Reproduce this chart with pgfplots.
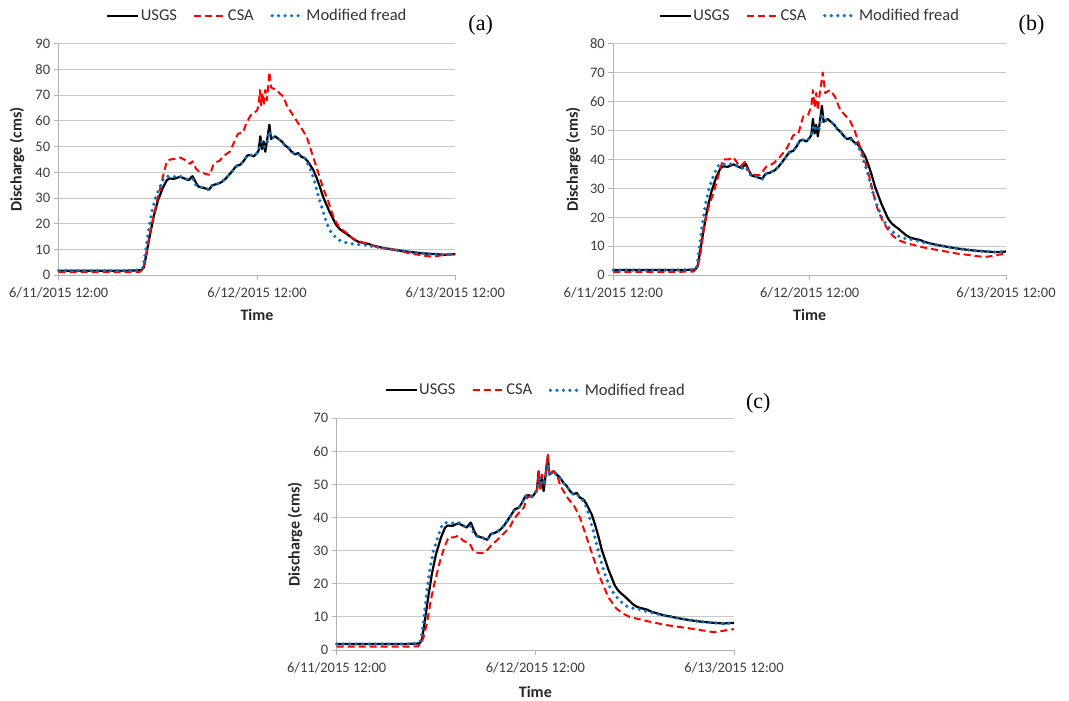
\documentclass[border=0pt]{standalone}
\usepackage{pgfplots}
\pgfplotsset{compat=1.18}
\usepackage{pgfplotstable}
\usepackage{fontspec}
\setmainfont{Carlito}
\newfontfamily\serifx{Liberation Serif}
\definecolor{usgs}{RGB}{0,0,0}
\definecolor{csa}{RGB}{255,0,0}
\definecolor{fread}{RGB}{10,115,200}
\definecolor{tickc}{RGB}{60,60,60}
\definecolor{gridc}{RGB}{200,200,200}
\definecolor{axc}{RGB}{180,180,180}

\pgfplotstableread{
t q
0 1.8
4 1.8
8 1.8
9.5 1.9
10 2.0
10.3 3
10.6 8
11 15
11.5 23
12 29
12.6 34
13.1 37
13.4 37.6
14 37.5
14.7 38.3
15.3 37.5
15.7 37
16.2 38.5
16.6 36
16.9 34.5
17.5 34
18.2 33.3
18.6 35
19.2 35.5
19.7 36.2
20.2 37.5
20.6 39
21 40.5
21.5 42.5
22 43
22.4 44.5
22.8 46.5
23.2 46.8
23.6 46.2
24 47.5
24.2 48.5
24.4 54
24.6 49
24.8 52
25.0 48
25.2 52
25.5 58.5
25.7 53
26.2 54
26.6 53
27 52
27.4 50.5
27.8 49.5
28.2 48
28.6 47
29 47.5
29.4 46
29.8 45.5
30.2 44
30.8 41
31.2 38
31.6 34.5
32 30.5
32.4 27.5
32.8 24.5
33.2 22
33.6 19.5
34 18
34.4 17
34.8 16.2
35.3 15
35.8 13.8
36.3 13
37 12.5
37.5 12.2
38 11.6
38.5 11.2
39.5 10.5
40.5 10
41.5 9.5
42.7 9
43.9 8.6
45.1 8.3
46.7 8
48 8.2
}\usgs

\pgfplotstableread{
t q
0 1.8
4 1.8
8 1.8
9.8 2.0
10.2 3
10.5 9
10.9 18
11.3 25
11.7 30
12.2 34
12.7 37.5
13.1 38.5
14 38.3
14.7 38.5
15.3 37.5
15.8 37
16.2 37.5
16.6 35
17 34.3
17.6 34
18.2 33.2
18.6 35
19.2 35.5
19.7 36.3
20.2 37.6
20.6 39
21 40.5
21.5 42.3
22 43
22.4 44.5
22.8 46.5
23.2 46.8
23.6 46.3
24 47.5
24.2 48.5
24.4 51
24.6 52
24.8 50
25.0 50
25.2 51
25.5 56
25.7 53.5
26.2 53.5
26.6 53
27 52
27.4 50.5
27.8 49.5
28.2 48
28.6 47
29 47
29.4 46
29.8 45.5
30.2 43
30.6 40
31 36
31.4 31
31.8 27
32.2 22.5
32.6 19
33 16.5
33.6 14.5
34.2 13.2
35 12.5
36 12
37 11.8
38 11.2
39.5 10.5
40.5 10
41.5 9.5
42.7 9
43.9 8.6
45.1 8.3
46.7 8
48 8.2
}\freada

\pgfplotstableread{
t q
0 1.8
4 1.8
8 1.8
9.8 2.0
10.2 3
10.5 9
10.9 18
11.3 25
11.7 30
12.2 34
12.7 37.5
13.1 38.5
14 38.3
14.7 38.5
15.3 37.5
15.8 37
16.2 37.5
16.6 35
17 34.3
17.6 34
18.2 33.2
18.6 35
19.2 35.5
19.7 36.3
20.2 37.6
20.6 39
21 40.5
21.5 42.3
22 43
22.4 44.5
22.8 46.5
23.2 46.8
23.6 46.3
24 47.5
24.2 48.5
24.4 51
24.6 52
24.8 50
25.0 50
25.2 51
25.5 56
25.7 53.5
26.2 53.5
26.6 53
27 52
27.4 50.5
27.8 49.5
28.2 48
28.6 47
29 47
29.4 46
29.8 45
30.2 43
30.6 39.5
31 36
31.4 32
31.8 28
32.2 24.5
32.6 21.5
33 19
33.5 17
34 15.5
34.6 14
35.2 13
36 12.5
36.8 12.2
37.5 11.6
38.5 11
39.5 10.5
40.5 10
41.5 9.5
42.7 9
43.9 8.6
45.1 8.3
46.7 8
48 8.2
}\freadbc

\pgfplotstableread{
t q
0 1.2
4 1.2
8 1.2
9.8 1.3
10.2 2.5
10.5 6
10.9 14
11.3 20
11.9 29
12.3 34
12.7 39.5
13.1 44.5
13.5 45
14.1 45.3
14.7 45.8
15.3 44.8
15.9 43.3
16.2 44.3
16.6 41.5
17.1 40
17.7 39.5
18.3 39
18.7 42.8
19.1 44
19.5 44.6
20 46.5
20.7 48
21.2 51.5
21.7 55
22.3 55.5
22.7 59
23.2 62
23.6 63
24 64
24.2 66
24.35 72
24.5 66
24.65 71
24.8 66
25 72
25.2 68
25.5 79
25.7 73
26 72.5
26.4 72
26.8 70.5
27.2 69.5
27.6 66
28 64
28.6 61
29.2 58
29.6 56
30 54
30.4 50
30.8 46
31.2 42
31.6 38
32.1 33
32.6 29
33 25
33.4 21.5
34 18.5
34.9 16.3
35.5 14.5
36 13.7
36.8 12.7
37.5 12
38.5 11
39.5 10.5
40.5 10
41.5 9.3
42.5 8.5
43.5 8
44.5 7.5
45.3 7.2
46 7.6
46.7 8
48 8.2
}\csaa

\pgfplotstableread{
t q
0 1.2
4 1.2
8 1.2
9.8 1.3
10.2 2.5
10.6 6
11 15
11.4 21
11.8 25
12.2 28
12.7 33
13.1 37
13.4 40
14 40
14.7 40.7
15.1 39
15.5 37.5
16.1 39.2
16.4 36.5
16.7 35.8
17.3 34.6
17.9 34.6
18.7 37.5
19.6 38.7
20.4 41
21.2 43.8
22 48.4
22.6 48.8
23.2 54.8
23.8 55.4
24.2 58.2
24.4 64
24.6 58
24.8 63
25 57
25.2 62
25.6 70
25.9 63
26.5 64
27.1 61.7
27.6 58
28.1 56
28.9 53.6
29.5 50
30.2 44
30.8 39
31.3 34
31.8 28
32.3 23
32.8 19.5
33.4 16.5
34.2 13.5
35 12
35.9 11
36.7 10.5
37.8 9.7
39.1 9
40.5 8.3
42 7.5
43.5 7
44.8 6.5
45.7 6.4
46.5 6.8
47.3 7.2
48 7.5
}\csab

\pgfplotstableread{
t q
0 1.0
4 1.0
8 1.0
9.8 1.1
10.2 2
10.5 4
10.9 8
11.3 14
11.7 19
12.1 23
12.5 27
13 31
13.5 34
14.1 34
14.7 34.5
15.3 33
16.1 32
16.5 30
16.9 29.4
17.7 29.3
18.3 30.5
18.8 32
19.3 33
19.9 34.5
20.5 36
21 37.5
21.3 39
21.7 40.5
22.2 42
22.6 43
23 46
23.4 46.5
23.8 47
24.2 48
24.4 54
24.6 48
24.8 53
25.1 50
25.5 59
25.7 53
26.2 54
26.6 53
27 49.8
27.8 46.3
28.2 45
28.6 44
29.4 40
30.2 34
31 28
31.8 22
32.3 19
32.8 16
33.8 12.5
34.6 11
35.4 10
37 9
38.5 8.2
39.9 7.5
41.3 7
42.7 6.5
44 6
45.5 5.4
46.5 5.7
47.3 6.1
48 6.3
}\csac

\pgfplotsset{
  panel/.style={
    scale only axis,
    xmin=0, xmax=48, ymin=0,
    xtick={0,24,48},
    xticklabels={6/11/2015 12:00,6/12/2015 12:00,6/13/2015 12:00},
    axis x line*=bottom, axis y line*=left,
    axis line style={axc, line width=0.8pt, -},
    major tick style={axc, line width=0.8pt},
    tick align=outside, major tick length=5pt,
    ymajorgrids, grid style={gridc, line width=0.9pt},
    ticklabel style={font=\fontsize{14.5}{16}\selectfont, text=tickc},
    xticklabel style={yshift=-4pt},
    /pgf/number format/assume math mode=true,
    xlabel={\bfseries Time}, ylabel={\bfseries Discharge (cms)},
    label style={font=\fontsize{16}{18}\selectfont, text=black!85},
    clip=false,
    legend columns=3,
    legend style={draw=none, fill=none, at={(0.5,1)}, anchor=center, yshift=28pt,
      font=\fontsize{16.5}{18}\selectfont, text=black!80,
      nodes={inner sep=1.5pt},
      /tikz/every even column/.append style={column sep=15pt},
      inner sep=0pt},
    legend image code/.code={\draw[#1] (0pt,0pt) -- (31pt,0pt);},
    every axis plot/.append style={line join=round},
  },
  usgsline/.style={usgs, line width=2.2pt},
  csaline/.style={csa, line width=2pt, dash pattern=on 7pt off 4pt},
  freadline/.style={fread, line width=3.6pt, line cap=round, dash pattern=on 0pt off 6.5pt},
}

\begin{document}
\begin{tikzpicture}
\useasboundingbox (0,0) rectangle (1069pt,701pt);

% (a)
\begin{axis}[panel, at={(58.7pt,425.7pt)}, anchor=south west,
  width=396.6pt, height=231.6pt, ymax=90, ytick distance=10,
  xlabel style={at={(axis description cs:0.5,-0.172)}, anchor=center},
  ylabel style={at={(axis description cs:-0.105,0.5)}, anchor=center}]
\addplot[usgsline] table[x=t,y=q] {\usgs};
\addlegendentry{USGS}
\addplot[csaline] table[x=t,y=q] {\csaa};
\addlegendentry{CSA}
\addplot[freadline] table[x=t,y=q] {\freada};
\addlegendentry{Modified fread}
\node[font=\serifx\fontsize{22}{24}\selectfont, text=black] at (rel axis cs:1.064,1.081) {(a)};
\end{axis}

% (b)
\begin{axis}[panel, at={(613.3pt,425.7pt)}, anchor=south west,
  width=392.7pt, height=231.6pt, ymax=80, ytick distance=10,
  xlabel style={at={(axis description cs:0.5,-0.172)}, anchor=center},
  ylabel style={at={(axis description cs:-0.102,0.5)}, anchor=center}]
\addplot[usgsline] table[x=t,y=q] {\usgs};
\addlegendentry{USGS}
\addplot[csaline] table[x=t,y=q] {\csab};
\addlegendentry{CSA}
\addplot[freadline] table[x=t,y=q] {\freadbc};
\addlegendentry{Modified fread}
\node[font=\serifx\fontsize{22}{24}\selectfont, text=black] at (rel axis cs:1.065,1.081) {(b)};
\end{axis}

% (c)
\begin{axis}[panel, at={(336.7pt,51pt)}, anchor=south west,
  width=397.3pt, height=231.7pt, ymax=70, ytick distance=10,
  xlabel style={at={(axis description cs:0.5,-0.18)}, anchor=center},
  ylabel style={at={(axis description cs:-0.105,0.5)}, anchor=center}]
\addplot[usgsline] table[x=t,y=q] {\usgs};
\addlegendentry{USGS}
\addplot[csaline] table[x=t,y=q] {\csac};
\addlegendentry{CSA}
\addplot[freadline] table[x=t,y=q] {\freadbc};
\addlegendentry{Modified fread}
\node[font=\serifx\fontsize{22}{24}\selectfont, text=black] at (rel axis cs:1.061,1.065) {(c)};
\end{axis}
\end{tikzpicture}
\end{document}
